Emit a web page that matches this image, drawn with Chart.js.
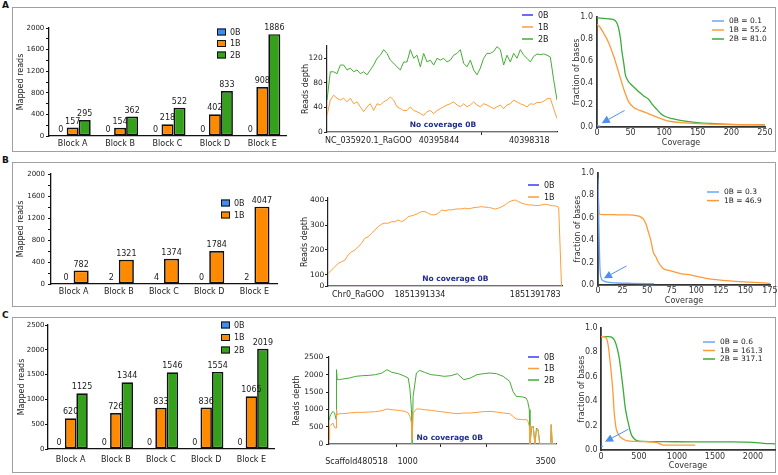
<!DOCTYPE html>
<html>
<head>
<meta charset="utf-8">
<title>Mapped reads, read depth and coverage</title>
<script src="https://cdn.jsdelivr.net/npm/chart.js"></script>
<style>
  html, body { margin: 0; padding: 0; background: #fff; }
  body { position: relative; width: 778px; height: 475px; overflow: hidden; font-family: "DejaVu Sans", sans-serif; }
  .row { position: absolute; left: 12px; width: 764px; border: 1px solid #a0a0a0; box-sizing: border-box; }
  .tag { position: absolute; left: 2px; font-weight: bold; font-size: 9px; line-height: 9px; color: #111; }
  canvas { position: absolute; }
</style>
</head>
<body>
<div class="tag" style="top:1px">A</div>
<div class="tag" style="top:156px">B</div>
<div class="tag" style="top:311px">C</div>
<div class="row" style="top:7px;height:145px"></div>
<div class="row" style="top:162px;height:145px"></div>
<div class="row" style="top:317px;height:156px"></div>
<script>
// ---------- mapped reads per block ----------
const blocks = ['Block A', 'Block B', 'Block C', 'Block D', 'Block E'];
const readsA_0B = [0, 0, 0, 0, 0];
const readsA_1B = [157, 154, 218, 402, 908];
const readsA_2B = [295, 362, 522, 833, 1886];
const readsB_0B = [0, 2, 4, 0, 2];
const readsB_1B = [782, 1321, 1374, 1784, 4047];
// panel B draws its 1B bars lower than the printed counts; heights
const barsB_1B = [244, 440, 459, 598, 1406];
const readsC_0B = [0, 0, 0, 0, 0];
const readsC_1B = [620, 726, 833, 836, 1065];
const readsC_2B = [1125, 1344, 1546, 1554, 2019];
const barTicksAB = [0, 200, 400, 600, 800, 1000, 1200, 1400, 1600, 1800, 2000];
const barLabelsAB = [0, 400, 800, 1200, 1600, 2000];
const barTicksC = [0, 500, 1000, 1500, 2000, 2500];

// ---------- reads depth along the region (evenly spaced samples) ----------
const depthA_2B = [52, 98, 98, 95, 109, 109, 101, 104, 98, 101,
  95, 98, 93, 101, 109, 120, 125, 134, 128, 117,
  112, 106, 101, 114, 114, 134, 120, 125, 106, 128,
  114, 117, 109, 120, 117, 120, 114, 117, 125, 128,
  134, 112, 106, 117, 101, 93, 104, 120, 128, 128,
  131, 139, 134, 109, 125, 114, 128, 120, 134, 125,
  120, 114, 123, 127, 126, 127, 125, 122, 85, 52];
const depthA_1B = [27, 52, 60, 55, 52, 55, 49, 55, 46, 49,
  41, 33, 41, 46, 35, 46, 44, 49, 52, 57,
  52, 41, 38, 35, 35, 41, 35, 33, 30, 27,
  33, 35, 30, 35, 38, 41, 44, 46, 49, 44,
  41, 46, 41, 44, 49, 44, 41, 46, 44, 41,
  38, 41, 44, 38, 44, 46, 52, 49, 46, 44,
  41, 46, 45, 48, 48, 50, 54, 55, 38, 22];
const depthA_0B = [0, 0];
const depthTicksA = [12.4, 33.6, 46.3, 60.7];
const depthTextA = ['NC_035920.1_RaGOO', '40395844', '', '40398318'];
const depthYTicksA = [0, 40, 80, 120];

const depthB_1B = [104, 118, 131, 145, 152, 158, 179, 192, 199, 213,
  226, 247, 253, 267, 280, 294, 304, 308, 308, 314,
  314, 321, 314, 321, 335, 338, 342, 348, 355, 355,
  348, 342, 342, 348, 362, 358, 362, 362, 365, 366,
  366, 369, 366, 369, 372, 373, 375, 373, 372, 369,
  365, 369, 375, 382, 393, 399, 402, 395, 389, 385,
  382, 382, 379, 380, 382, 385, 382, 379, 378, 373, 0];
const depthB_0B = [0, 0];
const depthTicksB = [9, 27.5, 62];
const depthTextB = ['Chr0_RaGOO', '1851391334', '1851391783'];
const depthYTicksB = [54, 100, 200, 300, 400];
const depthYTextB = ['0', '100', '200', '300', '400'];

const depthPosC = [0, 2, 5, 12, 17, 22, 23, 25, 32, 42,
  62, 82, 102, 122, 142, 162, 177, 192, 212, 232,
  242, 247, 252, 254, 257, 267, 277, 292, 312, 332,
  352, 372, 392, 412, 432, 452, 472, 492, 512, 532,
  552, 562, 572, 592, 602, 607, 612, 614, 619, 624,
  629, 634, 639, 644, 677, 679, 682, 695];
const depthC_2B = [702, 780, 846, 942, 894, 702, 2144, 1856, 1856, 1875,
  1904, 1952, 1971, 1980, 2000, 2048, 2144, 2067, 2029, 1952,
  1904, 1615, 990, 0, 1375, 2048, 2125, 2067, 2000, 1980,
  1952, 1971, 2029, 1856, 1904, 2000, 2029, 2048, 2029, 1952,
  1808, 1519, 1375, 1356, 1327, 1231, 990, 0, 461, 510,
  0, 461, 413, 0, 0, 558, 0, 0];
const depthC_1B = [125, 510, 540, 606, 470, 461, 990, 846, 875, 875,
  894, 913, 913, 923, 933, 962, 1010, 990, 971, 942,
  894, 798, 606, 125, 894, 1010, 1010, 990, 971, 942,
  923, 894, 875, 894, 894, 913, 933, 942, 923, 894,
  875, 798, 721, 702, 702, 683, 510, 0, 510, 490,
  0, 413, 394, 0, 0, 558, 0, 0];
const depthC_0B = [0, 0];
const depthTicksC = [84, 207, 240, 342, 480, 662];
const depthTextC = ['Scaffold480518', '', '1000', '', '', '3500'];
const depthYTicksC = [0, 500, 1000, 1500, 2000, 2500];

// ---------- fraction of bases with at least a given coverage ----------
const fracA_0B = [[0, 0.015], [2, 0.01], [5, 0.008]];
const fracA_1B = [[0, 0.93], [4, 0.91], [10, 0.85], [17, 0.77], [25, 0.64], [32, 0.5], [40, 0.34], [47, 0.23],
  [54, 0.18], [64, 0.15], [77, 0.12], [89, 0.09], [100, 0.065], [110, 0.05], [125, 0.04], [150, 0.03], [200, 0.022], [250, 0.02]];
const fracA_2B = [[0, 0.99], [10, 0.985], [20, 0.98], [25, 0.975], [29, 0.95], [32, 0.9], [35, 0.8], [37, 0.69], [40, 0.57],
  [42, 0.48], [46, 0.42], [50, 0.39], [57, 0.35], [64, 0.31], [70, 0.28], [77, 0.25], [83, 0.2], [89, 0.16], [95, 0.12],
  [100, 0.1], [112, 0.075], [124, 0.06], [149, 0.04], [175, 0.03], [198, 0.024], [250, 0.02]];
const fracB_0B = [[0, 0.95], [1, 0.5], [2, 0.15], [3, 0.07], [5, 0.04], [10, 0.025], [20, 0.018], [35, 0.015], [57, 0.012]];
const fracB_1B = [[0, 0.9], [0.7, 0.7], [1.7, 0.63], [10, 0.628], [20, 0.627], [30, 0.626], [39, 0.62], [43, 0.61], [46, 0.59],
  [49, 0.54], [51, 0.48], [54, 0.39], [56, 0.3], [59, 0.25], [61, 0.21], [66, 0.15], [72, 0.13], [77, 0.12], [85, 0.1],
  [94, 0.09], [110, 0.06], [134, 0.036], [155, 0.025], [175, 0.015]];
const fracC_0B = [[0, 0.03], [30, 0.03]];
const fracC_1B = [[0, 0.93], [30, 0.93], [66, 0.92], [97, 0.85], [120, 0.72], [140, 0.6], [160, 0.45], [171, 0.33], [185, 0.24],
  [198, 0.18], [220, 0.14], [250, 0.11], [290, 0.09], [338, 0.077], [450, 0.07], [600, 0.068], [734, 0.06], [780, 0.05],
  [822, 0.04], [1000, 0.04], [1240, 0.04]];
const fracC_2B = [[0, 0.93], [100, 0.93], [140, 0.925], [185, 0.89], [229, 0.79], [250, 0.71], [272, 0.6], [295, 0.48],
  [316, 0.36], [338, 0.28], [360, 0.22], [382, 0.16], [404, 0.12], [440, 0.09], [470, 0.077], [550, 0.07], [822, 0.068],
  [1200, 0.067], [1701, 0.066], [2000, 0.062], [2141, 0.055], [2290, 0.05]];
const fracLegendA = ['0B = 0.1', '1B = 55.2', '2B = 81.0'];
const fracLegendB = ['0B = 0.3', '1B = 46.9'];
const fracLegendC = ['0B = 0.6', '1B = 161.3', '2B = 317.1'];
const fracYTicks = [0, 0.2, 0.4, 0.6, 0.8, 1.0];
const fracXTicksA = [0, 50, 100, 150, 200, 250];
const fracXTicksB = [0, 25, 50, 75, 100, 125, 150, 175];
const fracXTicksC = [0, 500, 1000, 1500, 2000];

// ---------- colours ----------
const barColors = { '0B': '#3f8cef', '1B': '#ff8a00', '2B': '#34a01c' };
const depthColors = { '0B': '#3a3af5', '1B': '#ff9d3a', '2B': '#44ad33' };
const fracColors = { '0B': '#6aa6f8', '1B': '#ff9a3a', '2B': '#3aac3a' };
const noCoverColor = '#e9b77a';

Chart.defaults.font.family = '"DejaVu Sans", sans-serif';
Chart.defaults.font.size = 8;
Chart.defaults.color = '#222';
Chart.defaults.animation = false;
Chart.defaults.events = [];
Chart.defaults.plugins.legend.display = false;
Chart.defaults.plugins.tooltip.enabled = false;

// numbers printed above the bars
const barValues = {
  id: 'barValues',
  afterDatasetsDraw(chart, args, opts) {
    if (!opts.texts) return;
    const ctx = chart.ctx;
    ctx.save();
    ctx.font = '8px "DejaVu Sans"';
    ctx.fillStyle = '#1a1a1a';
    ctx.textAlign = 'center';
    ctx.textBaseline = 'bottom';
    opts.texts.forEach((row, i) => {
      chart.getDatasetMeta(i).data.forEach((bar, j) => ctx.fillText(String(row[j]), bar.x, bar.y - 2));
    });
    ctx.restore();
  }
};

// small legends, boxes for bars and strokes for lines
const keyBox = {
  id: 'keyBox',
  afterDraw(chart, args, o) {
    if (!o.items) return;
    const ctx = chart.ctx;
    ctx.save();
    ctx.font = (o.size || 8) + 'px "DejaVu Sans"';
    ctx.textBaseline = 'middle';
    ctx.textAlign = 'left';
    o.items.forEach((it, i) => {
      const y = o.y + i * o.dy;
      if (o.kind === 'box') {
        ctx.fillStyle = it.color;
        ctx.fillRect(o.x, y - 3.5, 9, 7);
        ctx.strokeStyle = '#111';
        ctx.lineWidth = 1;
        ctx.strokeRect(o.x + 0.5, y - 3, 8, 6);
      } else {
        ctx.strokeStyle = it.color;
        ctx.lineWidth = 1.5;
        ctx.beginPath();
        ctx.moveTo(o.x, y);
        ctx.lineTo(o.x + o.len, y);
        ctx.stroke();
      }
      ctx.fillStyle = '#222';
      ctx.fillText(it.text, o.x + o.gap, y + 0.5);
    });
    ctx.restore();
  }
};

// "No coverage 0B" text and the pointing arrows, placed in data units
const notes = {
  id: 'notes',
  afterDatasetsDraw(chart, args, o) {
    const xs = chart.scales.x, ys = chart.scales.y, ctx = chart.ctx;
    ctx.save();
    if (o.text) {
      ctx.font = 'bold 7.5px "DejaVu Sans"';
      ctx.fillStyle = '#1d2b8f';
      ctx.textAlign = 'center';
      ctx.textBaseline = 'middle';
      ctx.fillText(o.text.label, xs.getPixelForValue(o.text.x), ys.getPixelForValue(o.text.y));
    }
    if (o.arrow) {
      const x0 = xs.getPixelForValue(o.arrow.from[0]), y0 = ys.getPixelForValue(o.arrow.from[1]);
      const x1 = xs.getPixelForValue(o.arrow.to[0]), y1 = ys.getPixelForValue(o.arrow.to[1]);
      const a = Math.atan2(y1 - y0, x1 - x0), len = 8, half = 4;
      const bx = x1 - len * Math.cos(a), by = y1 - len * Math.sin(a);
      ctx.strokeStyle = '#4d8ef5';
      ctx.fillStyle = '#4d8ef5';
      ctx.lineWidth = 1;
      ctx.beginPath();
      ctx.moveTo(x0, y0);
      ctx.lineTo(bx, by);
      ctx.stroke();
      ctx.beginPath();
      ctx.moveTo(x1, y1);
      ctx.lineTo(bx + half * Math.sin(a), by - half * Math.cos(a));
      ctx.lineTo(bx - half * Math.sin(a), by + half * Math.cos(a));
      ctx.closePath();
      ctx.fill();
    }
    ctx.restore();
  }
};
Chart.register(barValues, keyBox, notes);

function mount(f) {
  const c = document.createElement('canvas');
  c.width = f.cr - f.cl;
  c.height = f.cb - f.ct;
  c.style.left = f.cl + 'px';
  c.style.top = f.ct + 'px';
  document.body.appendChild(c);
  return c;
}

function fixTicks(values) {
  return s => { s.ticks = values.map(v => ({ value: v })); };
}

function labelFrom(values, texts) {
  return v => { const i = values.indexOf(v); return i < 0 ? '' : String(texts[i]); };
}

function baseOptions(f) {
  return {
    responsive: false,
    devicePixelRatio: 1,
    layout: { padding: { left: 0, top: f.T - f.ct, right: f.cr - f.R, bottom: 0 } }
  };
}

function keyItems(names, texts, colors) {
  return names.map((n, i) => ({ text: texts[i], color: colors[n] }));
}

function barPanel(f, o) {
  return new Chart(mount(f), {
    type: 'bar',
    data: {
      labels: blocks,
      datasets: o.heights.map((h, i) => ({
        label: o.names[i],
        data: h,
        backgroundColor: barColors[o.names[i]],
        borderColor: '#111',
        borderWidth: 1.7,
        borderSkipped: false,
        categoryPercentage: o.catPct,
        barPercentage: 1
      }))
    },
    options: Object.assign(baseOptions(f), {
      scales: {
        x: {
          grid: { display: false, drawTicks: false },
          border: { display: true, color: '#111', width: 1.3 },
          ticks: { padding: o.xPad, color: '#222' },
          afterFit: s => { s.height = f.cb - f.B; }
        },
        y: {
          min: 0,
          max: o.yMax,
          afterBuildTicks: fixTicks(o.yTicks),
          ticks: { padding: o.yPad, autoSkip: false, color: '#222', font: { size: 7 },
                   callback: v => o.yLabels.includes(v) ? String(v) : '' },
          grid: { display: true, drawOnChartArea: false, drawTicks: true, tickLength: 3, color: '#111' },
          border: { display: true, color: '#111', width: 1.3 },
          title: { display: true, text: 'Mapped reads', color: '#222', padding: { top: o.tPad, bottom: 0 } },
          afterFit: s => { s.width = f.L - f.cl; }
        }
      },
      plugins: {
        barValues: { texts: o.texts },
        keyBox: { kind: 'box', x: o.key[0] - f.cl, y: o.key[1] - f.ct, dy: o.key[2], gap: 13, items: keyItems(o.names, o.names, barColors) }
      }
    })
  });
}

function depthPanel(f, o) {
  return new Chart(mount(f), {
    type: 'line',
    data: {
      datasets: o.series.map(s => ({
        label: s.name,
        data: s.pts,
        borderColor: s.color,
        borderWidth: 1,
        pointRadius: 0,
        tension: 0,
        fill: false,
        yAxisID: s.axis
      }))
    },
    options: Object.assign(baseOptions(f), {
      scales: {
        x: {
          type: 'linear',
          min: 0,
          max: o.xMax,
          afterBuildTicks: fixTicks(o.xTicks),
          ticks: { autoSkip: false, maxRotation: 0, padding: o.xPad, color: '#222', callback: labelFrom(o.xTicks, o.xText) },
          grid: { display: true, drawOnChartArea: false, drawTicks: true, tickLength: 3,
                  color: c => (c.tick && c.tick.label) ? 'rgba(0,0,0,0)' : '#222' },
          border: { display: true, color: '#222', width: 1.2 },
          afterFit: s => { s.height = f.cb - f.B; }
        },
        y: {
          min: o.yMin,
          max: o.yMax,
          afterBuildTicks: fixTicks(o.yTicks),
          ticks: { autoSkip: false, padding: o.yPad, color: '#222', font: { size: 7.5 }, callback: labelFrom(o.yTicks, o.yText) },
          grid: { display: true, drawOnChartArea: false, drawTicks: true, tickLength: 3, color: '#222' },
          border: { display: true, color: '#222', width: 1.2 },
          title: { display: true, text: 'Reads depth', color: '#222', padding: { top: o.tPad, bottom: 0 } },
          afterFit: s => { s.width = f.L - f.cl; }
        },
        y0: { type: 'linear', display: false, min: 0, max: 1 }
      },
      plugins: {
        keyBox: { kind: 'line', x: o.key[0] - f.cl, y: o.key[1] - f.ct, dy: o.key[2], len: 11, gap: 16,
                  items: keyItems(o.names, o.names, depthColors) },
        notes: { text: o.note }
      }
    })
  });
}

function fracPanel(f, o) {
  return new Chart(mount(f), {
    type: 'line',
    data: {
      datasets: o.series.map(s => ({
        label: s.name,
        data: s.pts.map(p => ({ x: p[0], y: p[1] })),
        borderColor: fracColors[s.name],
        borderWidth: 1.3,
        pointRadius: 0,
        cubicInterpolationMode: 'monotone',
        fill: false
      }))
    },
    options: Object.assign(baseOptions(f), {
      scales: {
        x: {
          type: 'linear',
          min: 0,
          max: o.xMax,
          afterBuildTicks: fixTicks(o.xTicks),
          ticks: { autoSkip: false, maxRotation: 0, padding: o.xPad, color: '#333', callback: v => String(v) },
          grid: { display: false, drawTicks: false },
          border: { display: true, color: '#333', width: 1.8 },
          title: { display: true, text: 'Coverage', color: '#333', padding: { top: 0, bottom: o.xtPad } },
          afterFit: s => { s.height = f.cb - f.B; }
        },
        y: {
          min: 0,
          max: 1,
          afterBuildTicks: fixTicks(fracYTicks),
          ticks: { autoSkip: false, padding: o.yPad, color: '#333', callback: v => v.toFixed(1) },
          grid: { display: false, drawTicks: false },
          border: { display: true, color: '#333', width: 1.8 },
          title: { display: true, text: 'fraction of bases', color: '#333', padding: { top: o.tPad, bottom: 0 } },
          afterFit: s => { s.width = f.L - f.cl; }
        }
      },
      plugins: {
        keyBox: { kind: 'line', size: 7.5, x: o.key[0] - f.cl, y: o.key[1] - f.ct, dy: o.key[2], len: 12, gap: 17,
                  items: keyItems(o.series.map(s => s.name), o.legend, fracColors) },
        notes: { arrow: o.arrow }
      }
    })
  });
}

function seq(values) {
  return values.map((v, i) => ({ x: i, y: v }));
}
function flat(values, x1) {
  return [{ x: 0, y: values[0] }, { x: x1, y: values[1] }];
}
function onPos(pos, values) {
  return values.map((v, i) => ({ x: pos[i], y: v }));
}

// ---------- row A ----------
barPanel({ cl: 13, ct: 8, cr: 292, cb: 151, L: 49, T: 28, R: 286, B: 136 }, {
  names: ['0B', '1B', '2B'],
  heights: [readsA_0B, readsA_1B, readsA_2B],
  texts: [readsA_0B, readsA_1B, readsA_2B],
  catPct: 0.76, yMax: 2000, yTicks: barTicksAB, yLabels: barLabelsAB,
  xPad: 3.2, yPad: 1.7, tPad: 3.2, key: [217, 32, 11.5]
});
depthPanel({ cl: 290, ct: 8, cr: 562, cb: 151, L: 327, T: 46, R: 557, B: 132 }, {
  names: ['0B', '1B', '2B'],
  series: [
    { name: '0B', pts: flat(depthA_0B, 69), color: noCoverColor, axis: 'y0' },
    { name: '1B', pts: seq(depthA_1B), color: depthColors['1B'], axis: 'y' },
    { name: '2B', pts: seq(depthA_2B), color: depthColors['2B'], axis: 'y' }
  ],
  xMax: 69, xTicks: depthTicksA, xText: depthTextA,
  yMin: 0, yMax: 140, yTicks: depthYTicksA, yText: depthYTicksA,
  xPad: 1.2, yPad: 1.3, tPad: 11.2, key: [522, 15, 12],
  note: { label: 'No coverage 0B', x: 34.8, y: 11 }
});
fracPanel({ cl: 568, ct: 8, cr: 776, cb: 151, L: 597, T: 15, R: 765, B: 127 }, {
  series: [{ name: '0B', pts: fracA_0B }, { name: '1B', pts: fracA_1B }, { name: '2B', pts: fracA_2B }],
  legend: fracLegendA, xMax: 250, xTicks: fracXTicksA,
  xPad: 1, yPad: 4, tPad: 4.2, xtPad: 3.2, key: [712, 21, 9],
  arrow: { from: [41, 0.15], to: [7, 0.035] }
});

// ---------- row B ----------
barPanel({ cl: 13, ct: 163, cr: 292, cb: 306, L: 51, T: 174, R: 277, B: 284 }, {
  names: ['0B', '1B'],
  heights: [readsB_0B, barsB_1B],
  texts: [readsB_0B, readsB_1B],
  catPct: 0.667, yMax: 2000, yTicks: barTicksAB, yLabels: barLabelsAB,
  xPad: 3.2, yPad: 3, tPad: 3.2, key: [221, 203, 12]
});
depthPanel({ cl: 290, ct: 163, cr: 566, cb: 306, L: 328, T: 198, R: 562, B: 286 }, {
  names: ['0B', '1B'],
  series: [
    { name: '0B', pts: flat(depthB_0B, 70), color: noCoverColor, axis: 'y0' },
    { name: '1B', pts: seq(depthB_1B), color: depthColors['1B'], axis: 'y' }
  ],
  xMax: 70, xTicks: depthTicksB, xText: depthTextB,
  yMin: 54, yMax: 410, yTicks: depthYTicksB, yText: depthYTextB,
  xPad: 1.2, yPad: 0.7, tPad: 10.2, key: [528, 185, 12],
  note: { label: 'No coverage 0B', x: 38.1, y: 81 }
});
fracPanel({ cl: 568, ct: 163, cr: 779, cb: 308, L: 598, T: 173, R: 770, B: 285 }, {
  series: [{ name: '0B', pts: fracB_0B }, { name: '1B', pts: fracB_1B }],
  legend: fracLegendB, xMax: 175, xTicks: fracXTicksB,
  xPad: 1.2, yPad: 4, tPad: 5.2, xtPad: 2.5, key: [707, 192, 8.6],
  arrow: { from: [29, 0.17], to: [6, 0.06] }
});

// ---------- row C ----------
barPanel({ cl: 13, ct: 318, cr: 292, cb: 472, L: 48, T: 325, R: 274, B: 449 }, {
  names: ['0B', '1B', '2B'],
  heights: [readsC_0B, readsC_1B, readsC_2B],
  texts: [readsC_0B, readsC_1B, readsC_2B],
  catPct: 0.76, yMax: 2500, yTicks: barTicksC, yLabels: barTicksC,
  xPad: 6.2, yPad: 0.5, tPad: 4.2, key: [221, 325, 12.5]
});
depthPanel({ cl: 288, ct: 318, cr: 566, cb: 472, L: 329, T: 357, R: 561, B: 444 }, {
  names: ['0B', '1B', '2B'],
  series: [
    { name: '0B', pts: flat(depthC_0B, 695), color: noCoverColor, axis: 'y0' },
    { name: '1B', pts: onPos(depthPosC, depthC_1B), color: depthColors['1B'], axis: 'y' },
    { name: '2B', pts: onPos(depthPosC, depthC_2B), color: depthColors['2B'], axis: 'y' }
  ],
  xMax: 695, xTicks: depthTicksC, xText: depthTextC,
  yMin: 0, yMax: 2510, yTicks: depthYTicksC, yText: depthYTicksC,
  xPad: 9.9, yPad: 2.7, tPad: 3.9, key: [528, 357, 11.5],
  note: { label: 'No coverage 0B', x: 369, y: 175 }
});
fracPanel({ cl: 570, ct: 318, cr: 777, cb: 474, L: 601, T: 328, R: 775, B: 450 }, {
  series: [{ name: '0B', pts: fracC_0B }, { name: '1B', pts: fracC_1B }, { name: '2B', pts: fracC_2B }],
  legend: fracLegendC, xMax: 2290, xTicks: fracXTicksC,
  xPad: 1.9, yPad: 3.3, tPad: 7.2, xtPad: 3.2, key: [703, 342, 8.5],
  arrow: { from: [360, 0.17], to: [53, 0.068] }
});
</script>
</body>
</html>
